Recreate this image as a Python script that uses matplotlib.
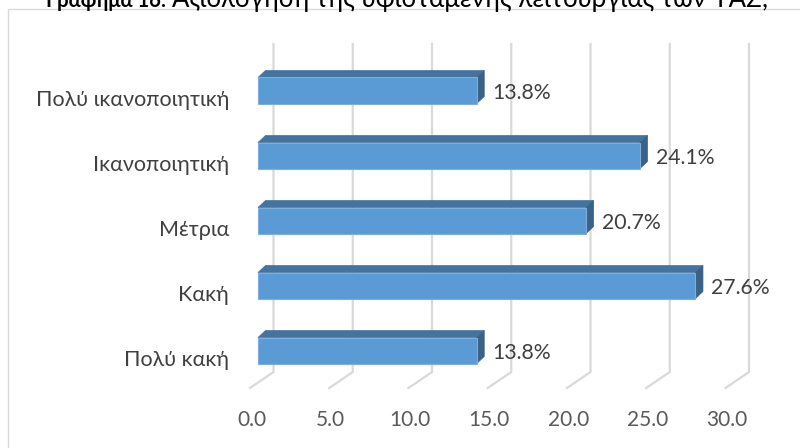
import matplotlib
matplotlib.use('Agg')
import matplotlib.pyplot as plt
from matplotlib.patches import Polygon, Rectangle

categories = ['Πολύ κακή', 'Κακή', 'Μέτρια', 'Ικανοποιητική', 'Πολύ ικανοποιητική']
values = [13.8, 27.6, 20.7, 24.1, 13.8]
value_labels = ['13.8%', '27.6%', '20.7%', '24.1%', '13.8%']
xticks = [0, 5, 10, 15, 20, 25, 30]
xtick_labels = ['0.0', '5.0', '10.0', '15.0', '20.0', '25.0', '30.0']
title_bold = 'Γράφημα 16:'
title_rest = 'Αξιολόγηση της υφιστάμενης λειτουργίας των ΥΑΣ;'

plt.rcParams['font.family'] = ['Lato', 'Open Sans', 'DejaVu Sans']

W, H = 800, 448
fig = plt.figure(figsize=(8, 4.48), dpi=100)

# layout (pixels)
x0px, unit = 258.0, 15.85
yc0, step = 350.5, 65.0
xlim = (-1, 32)
ylim = (-1, 5)
left_px = x0px + unit * xlim[0]
right_px = x0px + unit * xlim[1]
top_px = yc0 - step * ylim[1]
bot_px = yc0 - step * ylim[0]
ax = fig.add_axes([left_px / W, (H - bot_px) / H, (right_px - left_px) / W, (bot_px - top_px) / H])
ax.set_xlim(xlim)
ax.set_ylim(ylim)
ax.axis('off')

px_x = 1.0 / unit
px_y = 1.0 / step

# border
fig.patches.append(Rectangle((8 / W, -0.1), 1.0, (H - 9) / H + 0.1, transform=fig.transFigure,
                             fill=False, edgecolor='#D9D9D9', linewidth=1.0))

# back wall gridlines + floor diagonals
back_dx, front_dx = 15.5 * px_x, -8 * px_x
y_back, y_front, y_top = (yc0 - 372) / step, (yc0 - 388) / step, (yc0 - 44) / step
for v in xticks:
    ax.plot([v + back_dx, v + back_dx, v + front_dx], [y_top, y_back, y_front],
            color='#D9D9D9', lw=1.6, solid_joinstyle='miter', zorder=1, clip_on=False)

# 3D bars
h = 0.4
ddx, ddy = 7.5 * px_x, 7 * px_y
for i, v in enumerate(values):
    yt = i + h / 2
    yb = i - h / 2
    top = Polygon([(0, yt), (v, yt), (v + ddx, yt + ddy), (ddx, yt + ddy)], closed=True,
                  facecolor='#44739F', edgecolor='#44739F', lw=0.5, zorder=3)
    side = Polygon([(v, yb), (v, yt), (v + ddx, yt + ddy), (v + ddx, yb + ddy)], closed=True,
                   facecolor='#3A6186', edgecolor='#3A6186', lw=0.5, zorder=3)
    ax.add_patch(top)
    ax.add_patch(side)
ax.barh(range(len(values)), values, height=h, left=0, color='#5B9BD5',
        edgecolor='#7FAEDD', linewidth=0.8, zorder=4)

# value labels
for i, (v, lab) in enumerate(zip(values, value_labels)):
    ax.text(v + 16 * px_x, i - 8.5 * px_y, lab, ha='left', va='baseline',
            fontsize=15.3, color='#404040', zorder=5)

# category labels
for i, c in enumerate(categories):
    ax.text(xlim[0] - 13 * px_x, i - 15.5 * px_y, c, ha='right', va='baseline',
            fontsize=15.5, color='#404040', clip_on=False)

# x tick labels
for v, lab in zip(xticks, xtick_labels):
    ax.text(v - 6.5 * px_x, (yc0 - 419.5) / step, lab, ha='center', va='center',
            fontsize=15, color='#595959', clip_on=False)

# title (cut off at the top, as in the reference)
fig.text(166 / W, (H - 7) / H, title_bold, ha='right', va='baseline', fontsize=14.5,
         fontweight='bold', color='#000000')
fig.text(172 / W, (H - 7) / H, title_rest, ha='left', va='baseline', fontsize=18.5,
         color='#000000')

fig.savefig('out.png', dpi=100)
